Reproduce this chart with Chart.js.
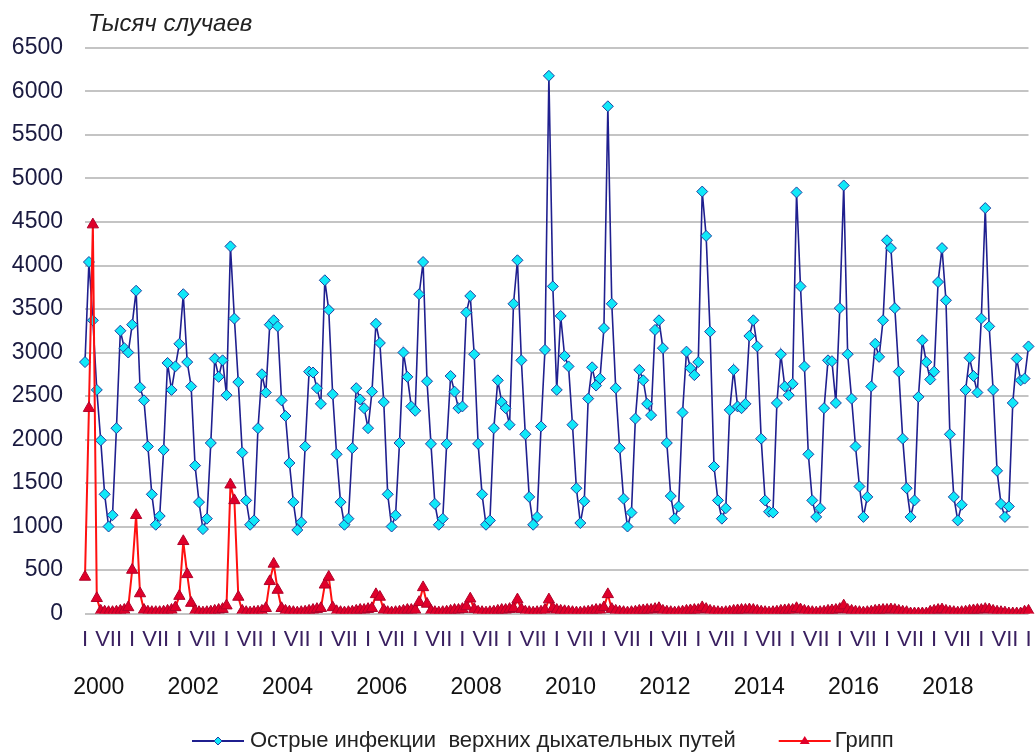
<!DOCTYPE html>
<html>
<head>
<meta charset="utf-8">
<script src="https://cdn.jsdelivr.net/npm/chart.js@4.4.0/dist/chart.umd.min.js"></script>
<style>
  html, body { margin: 0; padding: 0; background: #fff; }
</style>
</head>
<body>
<canvas id="chart" width="1036" height="754"></canvas>
<script>
const FONT = '"Liberation Sans", Arial, sans-serif';

// подписи
const yTitle = 'Тысяч случаев';
const seriesNames = ['Острые инфекции  верхних дыхательных путей', 'Грипп'];
const monthMarks = ['I', '', '', '', '', '', 'VII', '', '', '', '', ''];
const yearLabels = [2000, 2002, 2004, 2006, 2008, 2010, 2012, 2014, 2016, 2018];
const firstYear = 2000;

// ОРВИ, тыс. случаев по месяцам, янв 2000 - янв 2020
const orvi = [
  2890, 4040, 3370, 2570, 1990, 1370, 1000, 1130, 2130, 3250, 3050, 3000, // 2000
  3320, 3710, 2600, 2450, 1920, 1370, 1020, 1120, 1880, 2880, 2570, 2840, // 2001
  3100, 3670, 2890, 2610, 1700, 1280,  970, 1090, 1960, 2930, 2720, 2910, // 2002
  2510, 4220, 3390, 2660, 1850, 1300, 1020, 1070, 2130, 2750, 2540, 3320, // 2003
  3370, 3300, 2450, 2270, 1730, 1280,  960, 1050, 1920, 2780, 2770, 2590, // 2004
  2410, 3830, 3490, 2520, 1830, 1280, 1020, 1090, 1900, 2590, 2460, 2360, // 2005
  2130, 2550, 3330, 3110, 2430, 1370, 1000, 1130, 1960, 3000, 2720, 2380, // 2006
  2330, 3670, 4040, 2670, 1950, 1260, 1020, 1090, 1950, 2730, 2550, 2360, // 2007
  2380, 3460, 3650, 2980, 1950, 1370, 1020, 1070, 2130, 2680, 2430, 2360, // 2008
  2170, 3560, 4060, 2910, 2060, 1340, 1020, 1110, 2150, 3030, 6180, 3760, // 2009
  2570, 3420, 2960, 2840, 2170, 1440, 1040, 1290, 2470, 2830, 2620, 2700, // 2010
  3280, 5830, 3560, 2590, 1900, 1320, 1000, 1160, 2240, 2800, 2680, 2410, // 2011
  2280, 3260, 3370, 3050, 1960, 1350, 1090, 1230, 2310, 3010, 2820, 2740, // 2012
  2890, 4850, 4340, 3240, 1690, 1300, 1090, 1210, 2340, 2800, 2380, 2360, // 2013
  2410, 3190, 3370, 3070, 2010, 1300, 1170, 1160, 2420, 2980, 2610, 2510, // 2014
  2640, 4840, 3760, 2840, 1830, 1300, 1110, 1210, 2360, 2910, 2900, 2420, // 2015
  3510, 4920, 2980, 2470, 1920, 1460, 1110, 1340, 2610, 3100, 2950, 3370, // 2016
  4290, 4200, 3510, 2780, 2010, 1440, 1110, 1300, 2490, 3140, 2890, 2690, // 2017
  2780, 3810, 4200, 3600, 2060, 1340, 1070, 1250, 2570, 2940, 2730, 2540, // 2018
  3390, 4660, 3300, 2570, 1640, 1260, 1110, 1230, 2420, 2930, 2680, 2700, // 2019
  3070                                                                    // 2020
];

// грипп, тыс. случаев
const flu = [
   420, 2360, 4470,  175,   30,   20,   15,   15,   20,   30,   40,   70, // 2000
   500, 1130,  230,   40,   20,   15,   15,   15,   20,   30,   40,   70, // 2001
   200,  830,  450,  120,   30,   15,   10,   15,   20,   30,   40,   50, // 2002
    90, 1480, 1300,  190,   30,   15,   10,   15,   20,   30,   60,  370, // 2003
   570,  270,   60,   30,   20,   15,   10,   15,   20,   30,   40,   50, // 2004
    60,  330,  420,   70,   25,   15,   10,   15,   20,   30,   40,   40, // 2005
    50,   60,  220,  190,   40,   15,   10,   15,   20,   30,   40,   40, // 2006
    40,  130,  300,  110,   30,   15,   10,   15,   20,   30,   40,   40, // 2007
    50,   80,  170,   50,   20,   15,   10,   15,   20,   30,   40,   40, // 2008
    50,   60,  160,   50,   20,   15,   10,   15,   20,   40,  160,   60, // 2009
    40,   30,   25,   20,   15,   10,   10,   15,   20,   30,   40,   40, // 2010
    70,  220,   50,   30,   20,   15,   10,   15,   20,   30,   35,   40, // 2011
    40,   50,   60,   30,   20,   15,   10,   15,   20,   30,   35,   40, // 2012
    40,   70,   50,   30,   20,   15,   10,   15,   20,   30,   35,   40, // 2013
    40,   45,   40,   30,   20,   15,   10,   15,   20,   30,   35,   40, // 2014
    40,   60,   45,   30,   20,   15,   10,   15,   20,   30,   35,   40, // 2015
    50,   90,   40,   30,   20,   15,   10,   15,   20,   30,   35,   40, // 2016
    40,   45,   40,   30,   20,   15,    0,    0,    0,    0,    0,   20, // 2017
    30,   40,   45,   30,   20,   15,   10,   15,   20,   30,   35,   40, // 2018
    40,   50,   45,   30,   20,   15,   10,    0,    0,    0,    0,   20, // 2019
    30                                                                    // 2020
];

const labels = orvi.map((v, i) => monthMarks[i % 12]);

// заголовок оси, подписи годов и легенда рисуются поверх
const extras = {
  id: 'extras',
  afterDraw(chart) {
    const ctx = chart.ctx;
    const xs = chart.scales.x;
    ctx.save();

    ctx.font = 'italic 24px ' + FONT;
    ctx.fillStyle = '#222';
    ctx.textAlign = 'left';
    ctx.textBaseline = 'alphabetic';
    ctx.fillText(yTitle, chart.chartArea.left + 3, 31);

    ctx.font = '23px ' + FONT;
    ctx.fillStyle = '#111';
    ctx.textAlign = 'center';
    ctx.textBaseline = 'middle';
    yearLabels.forEach(yr => {
      ctx.fillText(String(yr), xs.getPixelForValue((yr - firstYear) * 12 + 3.5), 688);
    });

    // легенда
    const ly = 741;
    ctx.font = '22px ' + FONT;
    ctx.textAlign = 'left';
    let x0 = 192;
    // ОРВИ
    ctx.strokeStyle = '#1f1f8f';
    ctx.lineWidth = 2;
    ctx.beginPath(); ctx.moveTo(x0, ly); ctx.lineTo(x0 + 52, ly); ctx.stroke();
    ctx.fillStyle = '#10e8f8';
    ctx.strokeStyle = '#1f3fa0';
    ctx.lineWidth = 1;
    ctx.beginPath();
    ctx.moveTo(x0 + 26, ly - 4); ctx.lineTo(x0 + 30, ly); ctx.lineTo(x0 + 26, ly + 4); ctx.lineTo(x0 + 22, ly);
    ctx.closePath(); ctx.fill(); ctx.stroke();
    ctx.fillStyle = '#222';
    ctx.fillText(seriesNames[0], x0 + 58, ly);
    x0 = x0 + 58 + ctx.measureText(seriesNames[0]).width + 43;
    // грипп
    ctx.strokeStyle = '#ff1010';
    ctx.lineWidth = 2;
    ctx.beginPath(); ctx.moveTo(x0, ly); ctx.lineTo(x0 + 52, ly); ctx.stroke();
    ctx.fillStyle = '#e0002a';
    ctx.beginPath();
    ctx.moveTo(x0 + 26, ly - 5); ctx.lineTo(x0 + 31, ly + 3); ctx.lineTo(x0 + 21, ly + 3);
    ctx.closePath(); ctx.fill();
    ctx.fillStyle = '#222';
    ctx.fillText(seriesNames[1], x0 + 56, ly);

    ctx.restore();
  }
};

new Chart(document.getElementById('chart'), {
  type: 'line',
  data: {
    labels: labels,
    datasets: [{
      label: seriesNames[0],
      data: orvi,
      borderColor: '#1f1f8f',
      borderWidth: 1.6,
      pointStyle: 'rectRot',
      pointRadius: 5.5,
      pointBackgroundColor: '#10e8f8',
      pointBorderColor: '#1f3fa0',
      pointBorderWidth: 1,
      tension: 0,
      order: 1
    }, {
      label: seriesNames[1],
      data: flu,
      borderColor: '#ff1010',
      borderWidth: 2,
      pointStyle: 'triangle',
      pointRadius: 6.5,
      pointBackgroundColor: '#e0002a',
      pointBorderColor: '#b0002a',
      pointBorderWidth: 1,
      tension: 0,
      order: 0
    }]
  },
  options: {
    responsive: false,
    animation: false,
    layout: { padding: { top: 48, right: 4, left: 0, bottom: 0 } },
    plugins: {
      legend: { display: false },
      tooltip: { enabled: false }
    },
    scales: {
      x: {
        grid: { display: false, drawTicks: false },
        border: { display: false },
        ticks: {
          autoSkip: false,
          maxRotation: 0,
          minRotation: 0,
          padding: 13,
          color: '#3a2060',
          font: { family: FONT, size: 22 }
        },
        afterFit: s => {
          s.height = 140.5;
          s.paddingLeft = 0;
          s.paddingRight = 0;
        }
      },
      y: {
        min: 0,
        max: 6500,
        ticks: {
          stepSize: 500,
          padding: 22,
          color: '#1a1a40',
          font: { family: FONT, size: 23 },
          callback: v => String(v)
        },
        grid: { color: '#c4c4c4', lineWidth: 2, drawTicks: false },
        border: { display: false },
        afterFit: s => { s.width = 85; }
      }
    }
  },
  plugins: [extras]
});
</script>
</body>
</html>
